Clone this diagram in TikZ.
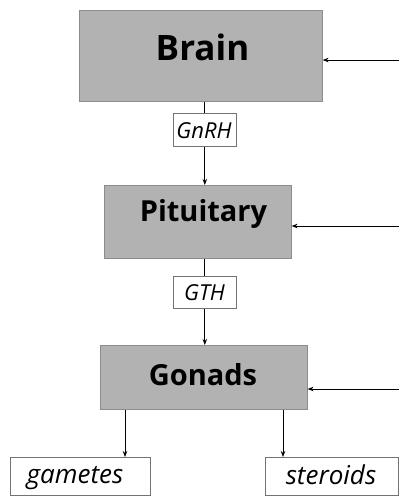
\documentclass[tikz,border=0pt]{standalone}
\usepackage{fontspec}
\setmainfont{Open Sans}
\usetikzlibrary{arrows.meta}
\begin{document}
\begin{tikzpicture}[x=1pt,y=-1pt,
  organ/.style={draw=black!45, line width=0.6pt, fill=black!30, inner sep=0pt, anchor=north west},
  hormone/.style={draw=black!55, line width=0.6pt, fill=white, inner sep=0pt, anchor=north west},
  organtext/.style={anchor=base, inner sep=0pt, font=\bfseries\fontsize{29}{34}\selectfont},
  hormtext/.style={anchor=base, inner sep=0pt, font=\itshape\fontsize{22}{26}\selectfont},
  link/.style={line width=0.9pt},
  arr/.style={link, -{Stealth[length=6pt,width=4.5pt]}},
]
\useasboundingbox (0,0) rectangle (399,498);

% glands
\node[organ, minimum width=243pt, minimum height=91pt] (brain) at (79,10) {};
\node[organ, minimum width=187pt, minimum height=73pt] (pit) at (104,185) {};
\node[organ, minimum width=207pt, minimum height=64pt] (gon) at (100,345) {};
\node[organtext, font=\bfseries\fontsize{35}{40}\selectfont] (braint) at (202.5,60) {Brain};
\node[organtext] (pitt) at (203.5,221) {Pituitary};
\node[organtext] (gont) at (203,385) {Gonads};

% hormones
\node[hormone, minimum width=63pt, minimum height=33pt] (gnrh) at (173,113) {};
\node[hormone, minimum width=63pt, minimum height=32pt] (gth) at (173,276) {};
\node[hormone, minimum width=140pt, minimum height=38pt] (gam) at (10,457) {};
\node[hormone, minimum width=133pt, minimum height=38pt] (ster) at (265,457) {};
\node[hormtext] (gnrht) at (204,138) {GnRH};
\node[hormtext] (gtht) at (204.5,300) {GTH};
\node[hormtext, font=\itshape\fontsize{26}{30}\selectfont] (gamt) at (75,483) {gametes};
\node[hormtext, font=\itshape\fontsize{26}{30}\selectfont] (stert) at (331,484) {steroids};

% axis connectors
\draw[link] (gnrh.north |- brain.south) -- (gnrh.north);
\draw[arr] (gnrh.south) -- (gnrh.south |- pit.north);
\draw[link] (gth.north |- pit.south) -- (gth.north);
\draw[arr] (gth.south) -- (gth.south |- gon.north);

% gonad products
\coordinate (gx) at (125,0);
\coordinate (sx) at (283,0);
\draw[arr] (gon.south -| gx) -- (gam.north -| gx);
\draw[arr] (gon.south -| sx) -- (ster.north -| sx);

% feedback from the right
\coordinate (fb1) at (399,60);
\coordinate (fb2) at (399,226);
\coordinate (fb3) at (399,389);
\draw[arr] (fb1) -- (fb1 -| brain.east);
\draw[arr] (fb2) -- (fb2 -| pit.east);
\draw[arr] (fb3) -- (fb3 -| gon.east);
\end{tikzpicture}
\end{document}
